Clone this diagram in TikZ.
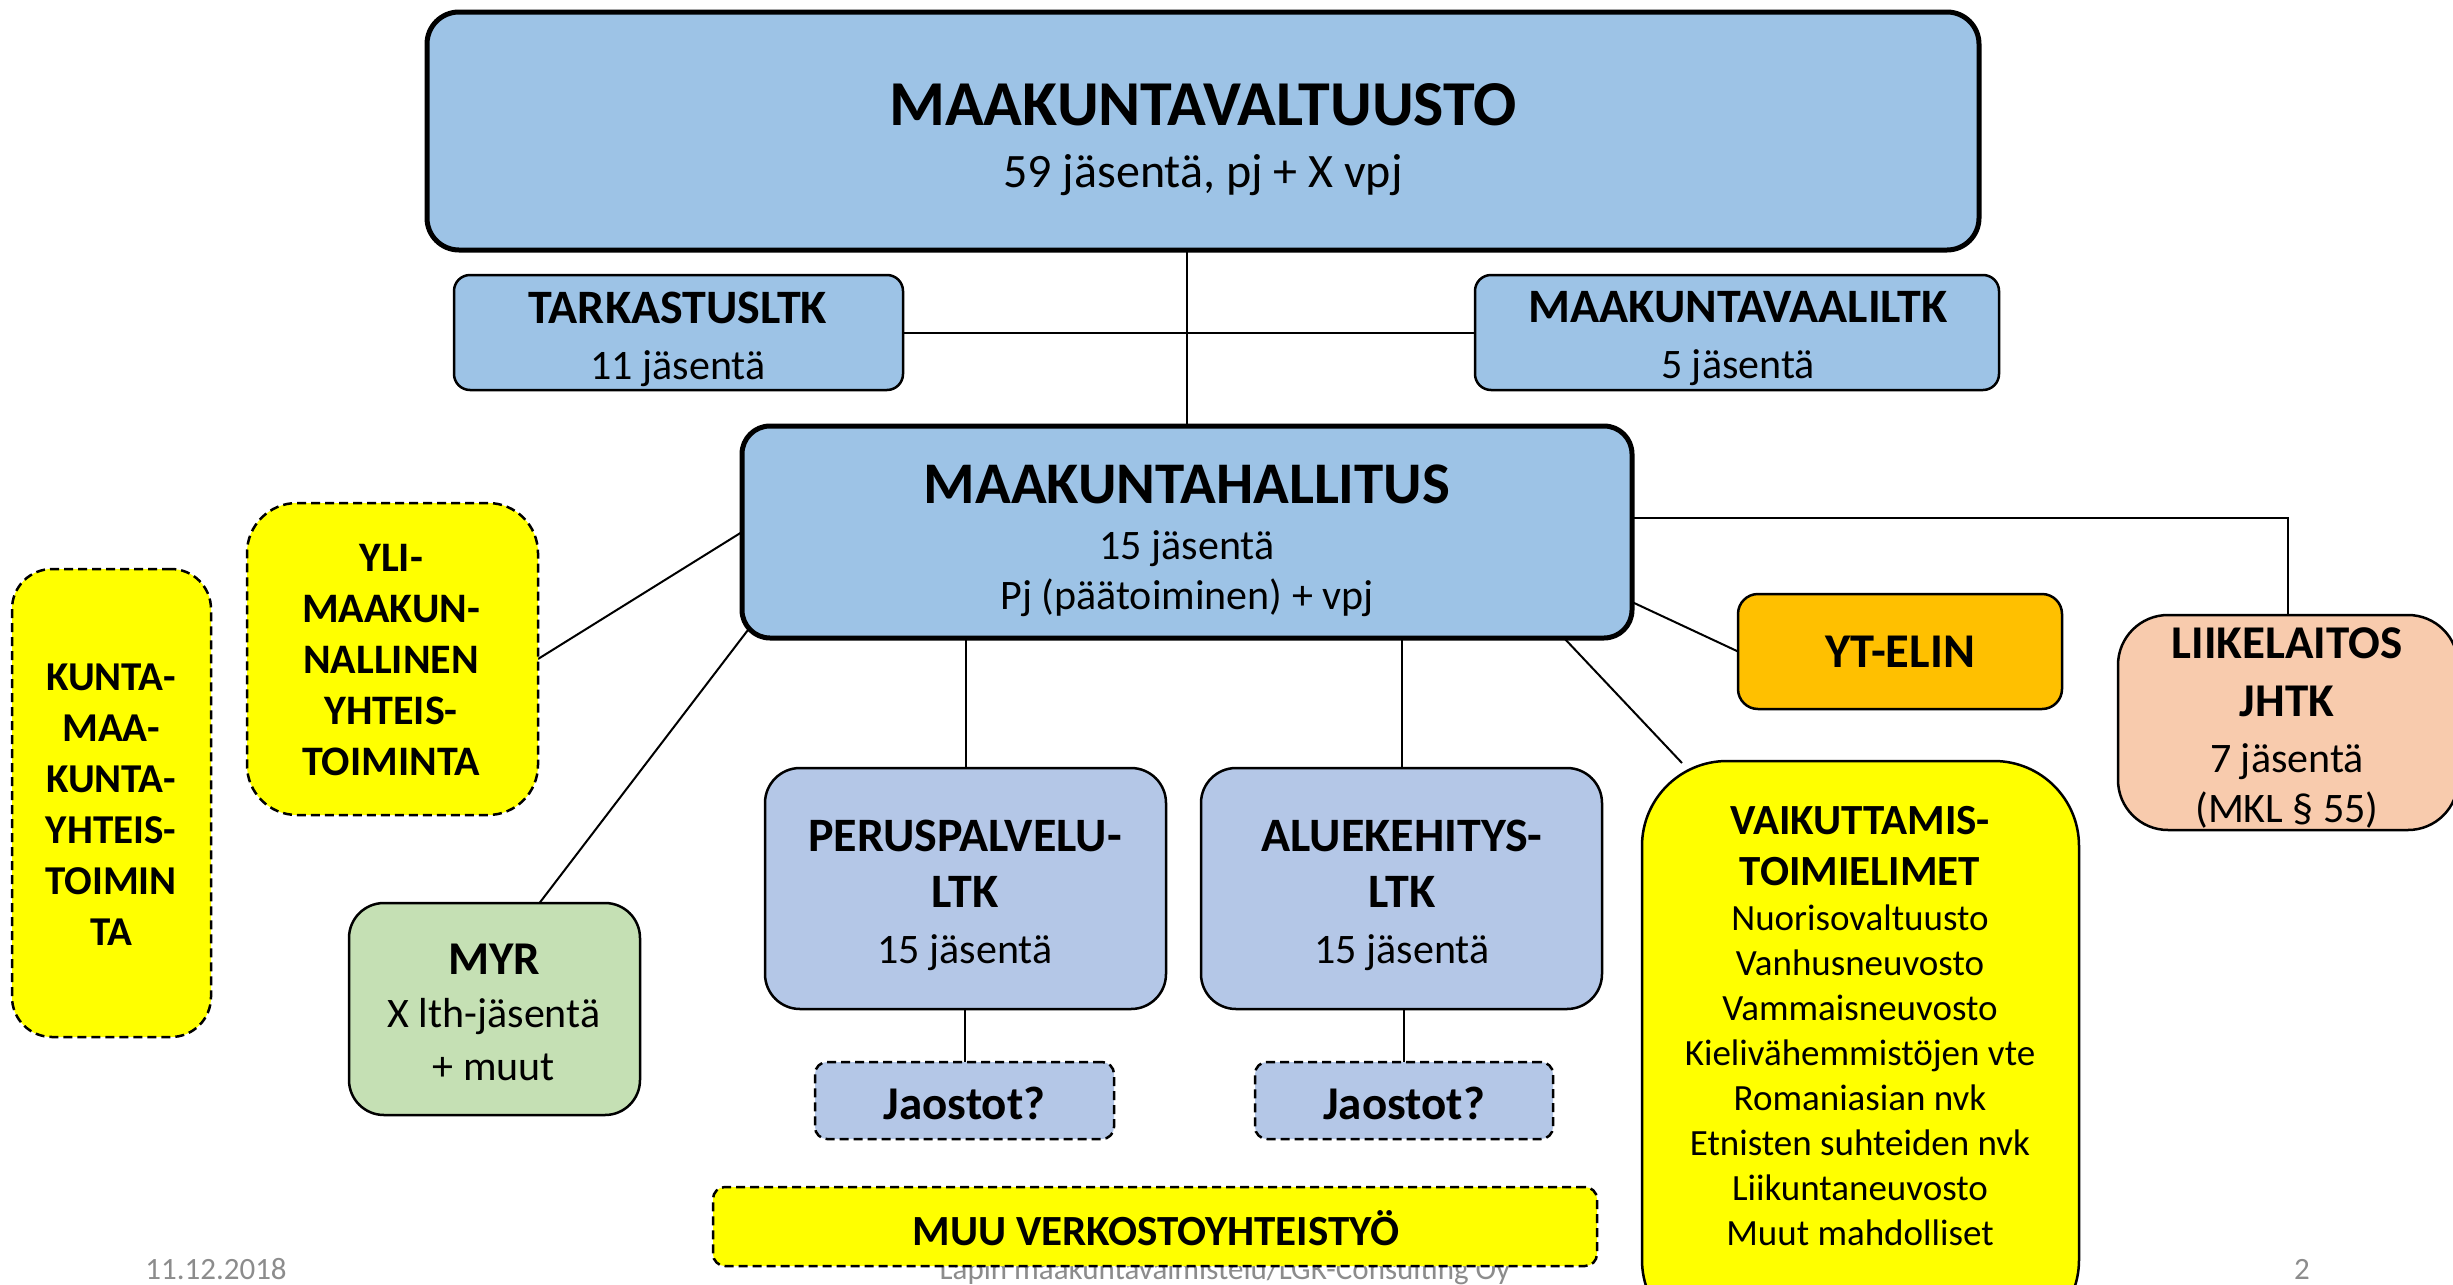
\documentclass[tikz,border=0pt]{standalone}
\usepackage{fontspec}
\setmainfont{Carlito}
\usetikzlibrary{calc,backgrounds}
\definecolor{mblue}{HTML}{9DC3E6}
\definecolor{lblue}{HTML}{B4C7E7}
\definecolor{myel}{HTML}{FFFF00}
\definecolor{morange}{HTML}{FFC000}
\definecolor{mgreen}{HTML}{C5E0B4}
\definecolor{mpeach}{HTML}{F8CBAD}
\definecolor{fgray}{HTML}{8C8C8C}
\newcommand{\fsz}[1]{\fontsize{#1}{#1}\selectfont}
\tikzset{
  box/.style={rectangle, draw=black, line width=2.5pt, inner sep=0pt, outer sep=0pt},
  dashbox/.style={box, dash pattern=on 9pt off 5pt},
  txt/.style={align=center, inner sep=0pt, outer sep=0pt},
  conn/.style={draw=black, line width=2pt},
  foot/.style={inner sep=0pt, anchor=base, text=fgray, font=\fsz{31}}
}
\begin{document}
\begin{tikzpicture}[x=1pt,y=-1pt]
\useasboundingbox (0,0) rectangle (2453,1285);
\clip (0,0) rectangle (2453,1285);
% footer (partly hidden behind MUU box)
\node[foot] (date) at (216,1279) {11.12.2018};
\node[foot] (ftxt) at (1225,1279) {Lapin maakuntavalmistelu/LGK-Consulting Oy};
\node[foot] (pg) at (2302,1279) {2};

% boxes
\node[box, fill=mblue, line width=5pt, rounded corners=32pt, minimum width=1552pt, minimum height=238pt] (mv) at (1203,131) {};
\node[box, fill=mblue, rounded corners=16pt, minimum width=449pt, minimum height=115pt] (tark) at (678.5,332.5) {};
\node[box, fill=mblue, rounded corners=16pt, minimum width=524pt, minimum height=115pt] (mvaali) at (1737,332.5) {};
\node[box, fill=mblue, line width=5pt, rounded corners=28pt, minimum width=890pt, minimum height=212pt] (mh) at (1187,532) {};
\node[dashbox, fill=myel, rounded corners=50pt, minimum width=291pt, minimum height=312pt] (yli) at (392.5,659) {};
\node[dashbox, fill=myel, rounded corners=40pt, minimum width=199pt, minimum height=468pt] (kunta) at (111.5,803) {};
\node[box, fill=mgreen, rounded corners=35pt, minimum width=291pt, minimum height=212pt] (myr) at (494.5,1009) {};
\node[box, fill=lblue, rounded corners=35pt, minimum width=401pt, minimum height=241pt] (perus) at (965.5,888.5) {};
\node[box, fill=lblue, rounded corners=35pt, minimum width=401pt, minimum height=241pt] (alue) at (1401.5,888.5) {};
\node[dashbox, fill=lblue, rounded corners=12pt, minimum width=299pt, minimum height=77pt] (jao1) at (964.5,1100.5) {};
\node[dashbox, fill=lblue, rounded corners=12pt, minimum width=298pt, minimum height=77pt] (jao2) at (1404,1100.5) {};
\node[dashbox, fill=myel, rounded corners=12pt, minimum width=884pt, minimum height=79pt] (muu) at (1155,1226.5) {};
\node[box, fill=morange, rounded corners=20pt, minimum width=324pt, minimum height=115pt] (yt) at (1900,651.5) {};
\node[box, fill=myel, rounded corners=85pt, minimum width=437pt, minimum height=584pt] (vaik) at (1860.5,1053) {};
\node[box, fill=mpeach, rounded corners=50pt, minimum width=340pt, minimum height=215pt] (liike) at (2288,722.5) {};

% texts
\node[txt, font=\fontsize{48}{56}\selectfont] (mvT) at (1203,140)
  {{\fsz{64}\bfseries MAAKUNTAVALTUUSTO}\\[6pt]{59 jäsentä, pj + X vpj}};
\node[txt, font=\fontsize{42}{56}\selectfont] (tarkT) at (678,339)
  {{\fsz{48}\bfseries TARKASTUSLTK}\\{11 jäsentä}};
\node[txt, font=\fontsize{42}{56}\selectfont] (mvaaliT) at (1738,339)
  {{\fsz{48}\bfseries MAAKUNTAVAALILTK}\\{5 jäsentä}};
\node[txt, font=\fontsize{42}{50}\selectfont] (mhT) at (1187,541)
  {{\fsz{59}\bfseries MAAKUNTAHALLITUS}\\[6pt]{15 jäsentä}\\{Pj (päätoiminen) + vpj}};
\node[txt, font=\fontsize{42}{51}\selectfont\bfseries] (yliT) at (391,660.5)
  {YLI-\\MAAKUN-\\NALLINEN\\YHTEIS-\\TOIMINTA};
\node[txt, font=\fontsize{41}{51}\selectfont\bfseries] (kuntaT) at (111,804.5)
  {KUNTA-\\MAA-\\KUNTA-\\YHTEIS-\\TOIMIN\\TA};
\node[txt, font=\fontsize{42}{53}\selectfont] (myrT) at (494,1012)
  {{\fsz{47}\bfseries MYR}\\{X lth-jäsentä}\\{+ muut}};
\node[txt, font=\fontsize{42}{56}\selectfont] (perusT) at (965,895)
  {{\fsz{48}\bfseries PERUSPALVELU-}\\{\fsz{48}\bfseries LTK}\\{15 jäsentä}};
\node[txt, font=\fontsize{42}{56}\selectfont] (alueT) at (1402,895)
  {{\fsz{48}\bfseries ALUEKEHITYS-}\\{\fsz{48}\bfseries LTK}\\{15 jäsentä}};
\node[txt, font=\fontsize{47}{50}\selectfont\bfseries] (jao1T) at (964.5,1103) {Jaostot?};
\node[txt, font=\fontsize{47}{50}\selectfont\bfseries] (jao2T) at (1404,1103) {Jaostot?};
\node[txt, font=\fontsize{43}{50}\selectfont\bfseries] (muuT) at (1156,1228) {MUU VERKOSTOYHTEISTYÖ};
\node[txt, font=\fontsize{48.5}{50}\selectfont\bfseries] (ytT) at (1900,652) {YT-ELIN};
\node[txt, font=\fontsize{37}{45}\selectfont] (vaikT) at (1860,1026.5)
  {{\fsz{43}\bfseries VAIKUTTAMIS-}\\[6pt]{\fsz{43}\bfseries TOIMIELIMET}\\Nuorisovaltuusto\\Vanhusneuvosto\\Vammaisneuvosto\\Kielivähemmistöjen vte\\Romaniasian nvk\\Etnisten suhteiden nvk\\Liikuntaneuvosto\\Muut mahdolliset};
\node[txt, font=\fontsize{42}{50}\selectfont] (liikeT) at (2287,727.5)
  {{\fsz{47}\bfseries LIIKELAITOS}\\[8pt]{\fsz{47}\bfseries JHTK}\\[6pt]{7 jäsentä}\\{(MKL \S{} 55)}};

% connectors
\begin{pgfonlayer}{background}
\draw[conn] (mh.north) -- (mh.north |- mv.south);
\draw[conn] (tark.east) -- (mvaali.west);
\draw[conn] (yli.east) -- (mh.west);
\draw[conn] ($(myr.north)+(45,0)$) -- ($(mh.south west)+(9,-12)$);
\draw[conn] (perus.north) -- (perus.north |- mh.south);
\draw[conn] (alue.north) -- (alue.north |- mh.south);
\draw[conn] (jao1.north) -- (jao1.north |- perus.south);
\draw[conn] (jao2.north) -- (jao2.north |- alue.south);
\draw[conn] ($(mh.south east)+(0,-36)$) -- (yt.west);
\draw[conn] ($(mh.south east)+(-68,0)$) -- ($(vaik.north west)+(40,2)$);
\draw[conn] ($(mh.east)+(0,-14)$) -| (liike.north);
\end{pgfonlayer}
\end{tikzpicture}
\end{document}
